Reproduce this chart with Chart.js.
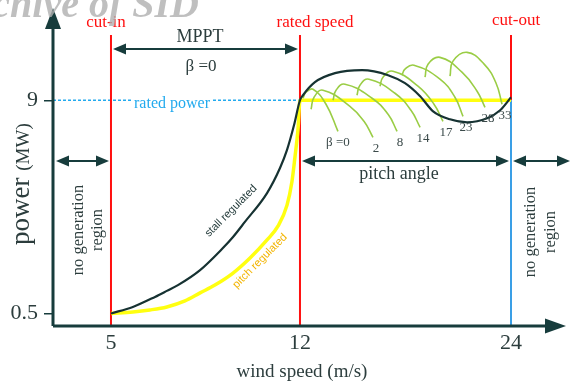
<!DOCTYPE html>
<html><head><meta charset="utf-8">
<script src="https://cdn.jsdelivr.net/npm/chart.js@4"></script>
<style>html,body{margin:0;padding:0;background:#fff}#wrap{width:571px;height:383px}</style>
</head><body><div id="wrap"><canvas id="c" width="571" height="383"></canvas></div>
<script>
// ---- data ----
const xTicks = [5, 12, 24];
const yTicks = [0.5, 9];
const xAnchors = [2.85, 5, 12, 24, 26.5];          // schematic (non-linear) wind-speed axis anchors
const xAnchorFractions = [0, 0.1155, 0.492, 0.9124, 1];

const pitchX = [5.0, 5.81, 6.44, 7.07, 7.74, 8.30, 8.85, 9.52, 10.15, 10.78, 11.19, 11.52, 11.70, 11.81, 11.93, 12.0, 24.0];
const pitchY = [0.5, 0.56, 0.64, 0.76, 1.00, 1.32, 1.63, 2.11, 2.71, 3.43, 3.99, 4.82, 5.74, 6.70, 7.89, 9.0, 9.0];

const stallX = [5.0, 5.81, 6.63, 7.07, 7.48, 8.30, 9.11, 9.52, 9.96, 10.78, 11.26, 11.52, 11.78, 12.0, 12.17, 12.85, 13.99, 15.53, 17.01, 17.97, 18.83, 19.57, 20.53, 21.50, 22.64, 23.38, 24.0];
const stallY = [0.5, 0.76, 1.16, 1.40, 1.63, 2.23, 3.07, 3.55, 4.15, 5.30, 6.30, 7.02, 8.01, 9.0, 9.20, 9.72, 10.08, 10.20, 10.0, 9.68, 9.16, 8.56, 8.24, 8.12, 8.28, 8.60, 9.12];

const betaLabels = ['\u03b2 =0', '2', '8', '14', '17', '23', '28', '33'];
const betaX = [
  [12.17, 12.34, 12.74, 13.48, 14.16],
  [12.63, 12.80, 13.31, 14.84, 15.64, 16.15],
  [13.88, 14.05, 14.56, 16.10, 17.01, 17.52],
  [15.24, 15.41, 15.92, 17.40, 18.31, 18.83],
  [16.55, 16.72, 17.29, 18.71, 19.62, 20.13],
  [17.80, 17.97, 18.48, 19.96, 20.81, 21.27],
  [19.11, 19.28, 19.96, 21.21, 22.07, 22.52],
  [20.53, 20.70, 21.50, 22.47, 23.15, 23.49]
];
const betaY = [
  [9.08, 9.32, 9.44, 8.84, 7.76],
  [8.64, 9.12, 9.40, 8.76, 8.16, 7.52],
  [9.00, 9.40, 9.64, 9.08, 8.44, 7.76],
  [9.20, 9.60, 9.84, 9.28, 8.60, 7.92],
  [9.56, 9.92, 10.16, 9.56, 8.84, 8.16],
  [10.00, 10.24, 10.40, 9.84, 9.12, 8.36],
  [9.92, 10.44, 10.71, 10.12, 9.36, 8.72],
  [9.96, 10.56, 10.91, 10.44, 9.68, 8.84]
];
const ratedPower = 9;
const cutIn = 5, ratedSpeed = 12, cutOut = 24;

// ---- custom piecewise-linear scale ----
class PiecewiseScale extends Chart.LinearScale {
  getPixelForValue(value) {
    const a = xAnchors, f = xAnchorFractions;
    let i = 0;
    while (i < a.length - 2 && value > a[i + 1]) i++;
    const t = f[i] + (value - a[i]) / (a[i + 1] - a[i]) * (f[i + 1] - f[i]);
    return this.left + t * this.width;
  }
  getValueForPixel(px) {
    const a = xAnchors, f = xAnchorFractions;
    const t = (px - this.left) / this.width;
    let i = 0;
    while (i < f.length - 2 && t > f[i + 1]) i++;
    return a[i] + (t - f[i]) / (f[i + 1] - f[i]) * (a[i + 1] - a[i]);
  }
}
PiecewiseScale.id = 'piecewise';
Chart.register(PiecewiseScale);

const DARK = '#173c3c';
const TEXT = '#2c3d3d';
const RED = '#ff1010';
const CYAN = '#22aaee';
const SERIF = '"Liberation Serif", "DejaVu Serif", serif';
const SANS = '"Liberation Sans", Arial, sans-serif';

const toPts = (xs, ys) => xs.map((x, i) => ({ x, y: ys[i] }));

const datasets = [
  { label: 'stall regulated', data: toPts(stallX, stallY), borderColor: '#163232', borderWidth: 2.2, cubicInterpolationMode: 'monotone', pointRadius: 0 },
];
betaX.forEach((xs, k) => datasets.push({ label: 'beta ' + betaLabels[k], data: toPts(xs, betaY[k]), borderColor: '#9acd45', borderWidth: 1.6, tension: 0.45, pointRadius: 0 }));
datasets.push({ label: 'pitch regulated', data: toPts(pitchX, pitchY), borderColor: '#ffff10', borderWidth: 3.5, cubicInterpolationMode: 'monotone', pointRadius: 0 });

function arrowHead(ctx, tipX, tipY, dir, len, half) {
  ctx.beginPath();
  if (dir === 'r') { ctx.moveTo(tipX, tipY); ctx.lineTo(tipX - len, tipY - half); ctx.lineTo(tipX - len, tipY + half); }
  else if (dir === 'l') { ctx.moveTo(tipX, tipY); ctx.lineTo(tipX + len, tipY - half); ctx.lineTo(tipX + len, tipY + half); }
  else { ctx.moveTo(tipX, tipY); ctx.lineTo(tipX - half, tipY + len); ctx.lineTo(tipX + half, tipY + len); }
  ctx.closePath(); ctx.fill();
}
function doubleArrow(ctx, x1, x2, y) {
  ctx.save();
  ctx.strokeStyle = DARK; ctx.fillStyle = DARK; ctx.lineWidth = 2;
  ctx.beginPath(); ctx.moveTo(x1 + 8, y); ctx.lineTo(x2 - 8, y); ctx.stroke();
  arrowHead(ctx, x1, y, 'l', 13, 5.5);
  arrowHead(ctx, x2, y, 'r', 13, 5.5);
  ctx.restore();
}
function rotText(ctx, txt, x, y, ang, font, color, align) {
  ctx.save(); ctx.translate(x, y); ctx.rotate(ang);
  ctx.font = font; ctx.fillStyle = color; ctx.textAlign = align || 'center'; ctx.textBaseline = 'middle';
  ctx.fillText(txt, 0, 0); ctx.restore();
}

const decor = {
  id: 'decor',
  beforeDatasetsDraw(chart) {
    const { ctx, scales: { x, y }, chartArea: ca } = chart;
    const yb = ca.bottom, yr = y.getPixelForValue(ratedPower);
    ctx.save();
    ctx.strokeStyle = CYAN; ctx.lineWidth = 1.3; ctx.setLineDash([3, 2]);
    ctx.beginPath(); ctx.moveTo(ca.left, yr); ctx.lineTo(x.getPixelForValue(ratedSpeed), yr); ctx.stroke();
    ctx.setLineDash([]);
    ctx.font = '16px ' + SERIF; ctx.textAlign = 'center'; ctx.textBaseline = 'alphabetic';
    const tw = ctx.measureText('rated power').width;
    ctx.fillStyle = '#fff'; ctx.fillRect(172 - tw / 2 - 1, yr - 2, tw + 2, 14);
    ctx.fillStyle = CYAN; ctx.fillText('rated power', 172, yr + 8);
    ctx.lineWidth = 2;
    [cutIn, ratedSpeed].forEach(v => {
      const px = x.getPixelForValue(v);
      ctx.strokeStyle = RED; ctx.beginPath(); ctx.moveTo(px, 35); ctx.lineTo(px, yb); ctx.stroke();
    });
    const po = x.getPixelForValue(cutOut);
    ctx.strokeStyle = RED; ctx.beginPath(); ctx.moveTo(po, 35); ctx.lineTo(po, yr); ctx.stroke();
    ctx.strokeStyle = '#3a9fe6'; ctx.beginPath(); ctx.moveTo(po, yr); ctx.lineTo(po, yb); ctx.stroke();
    ctx.restore();
  },
  afterDatasetsDraw(chart) {
    const { ctx, scales: { x, y }, chartArea: ca } = chart;
    const px5 = x.getPixelForValue(cutIn), px12 = x.getPixelForValue(ratedSpeed), px24 = x.getPixelForValue(cutOut);
    ctx.save();
    ctx.strokeStyle = DARK; ctx.fillStyle = DARK; ctx.lineWidth = 3;
    ctx.beginPath(); ctx.moveTo(ca.left, ca.bottom); ctx.lineTo(548, ca.bottom); ctx.stroke();
    arrowHead(ctx, 566, ca.bottom, 'r', 21, 7.5);
    ctx.beginPath(); ctx.moveTo(ca.left, ca.bottom); ctx.lineTo(ca.left, 26); ctx.stroke();
    arrowHead(ctx, ca.left, 8, 'u', 21, 8);
    doubleArrow(ctx, px5 + 2, px12 - 2, 49);
    doubleArrow(ctx, ca.left + 3, px5 - 2, 161);
    doubleArrow(ctx, px12 + 2, px24 - 2, 161);
    doubleArrow(ctx, px24 + 2, 570, 161);
    ctx.textAlign = 'center'; ctx.textBaseline = 'alphabetic';
    ctx.font = '17px ' + SERIF; ctx.fillStyle = RED;
    ctx.fillText('cut-in', px5 - 5, 27);
    ctx.fillText('rated speed', px12 + 15, 27);
    ctx.fillText('cut-out', px24 + 5, 25);
    ctx.fillStyle = TEXT; ctx.font = '18px ' + SERIF;
    ctx.fillText('MPPT', 200, 42);
    ctx.font = '17px ' + SERIF;
    ctx.fillText('\u03b2 =0', 201, 71);
    ctx.font = '18px ' + SERIF;
    ctx.fillText('pitch angle', 399, 179);
    ctx.font = '13px ' + SERIF; ctx.fillStyle = '#3b4a4a'; ctx.textBaseline = 'middle';
    betaX.forEach((xs, k) => {
      const ex = x.getPixelForValue(xs[xs.length - 1]);
      const ey = y.getPixelForValue(betaY[k][betaY[k].length - 1]);
      ctx.fillText(betaLabels[k], ex + (k === 0 ? 0 : 3), ey + 11);
    });
    ctx.textBaseline = 'alphabetic';
    ctx.font = '19px ' + SERIF; ctx.fillStyle = TEXT;
    ctx.fillText('wind speed (m/s)', 302, 377);
    ctx.save(); ctx.translate(29, 245); ctx.rotate(-Math.PI / 2);
    ctx.textAlign = 'left'; ctx.font = '27px ' + SERIF; ctx.fillStyle = TEXT;
    ctx.fillText('power', 0, 0);
    const pw = ctx.measureText('power ').width;
    ctx.font = '19px ' + SERIF; ctx.fillText('(MW)', pw, 0);
    ctx.restore();
    const ng = '16.5px ' + SERIF;
    rotText(ctx, 'no generation', 79, 230, -Math.PI / 2, ng, TEXT);
    rotText(ctx, 'region', 98, 230, -Math.PI / 2, ng, TEXT);
    rotText(ctx, 'no generation', 531, 232, -Math.PI / 2, ng, TEXT);
    rotText(ctx, 'region', 551, 232, -Math.PI / 2, ng, TEXT);
    rotText(ctx, 'stall regulated', 231, 211, -Math.PI / 4, '11px ' + SANS, '#1d3535');
    rotText(ctx, 'pitch regulated', 260, 261, -Math.PI / 4, '11px ' + SANS, '#f2b400');
    ctx.font = 'bold italic 40px ' + SERIF; ctx.fillStyle = 'rgba(175,175,175,0.8)';
    ctx.textAlign = 'right'; ctx.textBaseline = 'alphabetic';
    ctx.fillText('Archive of SID', 199, 17);
    ctx.restore();
  }
};

new Chart(document.getElementById('c'), {
  type: 'line',
  data: { datasets },
  options: {
    responsive: false, devicePixelRatio: 1, animation: false,
    layout: { padding: { left: 0, top: 20, right: 16, bottom: 0 } },
    plugins: { legend: { display: false }, tooltip: { enabled: false } },
    scales: {
      x: {
        type: 'piecewise', position: 'bottom', min: xAnchors[0], max: xAnchors[xAnchors.length - 1],
        grid: { display: false, drawTicks: false }, border: { display: false },
        afterBuildTicks: s => { s.ticks = xTicks.map(v => ({ value: v })); },
        afterFit: s => { s.height = 57; },
        ticks: { callback: v => String(v), font: { family: SERIF, size: 22 }, color: TEXT, padding: 4, maxRotation: 0, autoSkip: false }
      },
      y: {
        type: 'linear', position: 'left', min: 0, max: 12.2,
        grid: { display: true, drawOnChartArea: false, drawTicks: true, tickLength: 9, color: DARK, lineWidth: 1.5 },
        border: { display: false },
        afterBuildTicks: s => { s.ticks = yTicks.map(v => ({ value: v })); },
        afterFit: s => { s.width = 53; },
        ticks: { callback: v => String(v), font: { family: SERIF, size: 22 }, color: TEXT, padding: 6 }
      }
    }
  },
  plugins: [decor]
});
</script>
</body></html>
